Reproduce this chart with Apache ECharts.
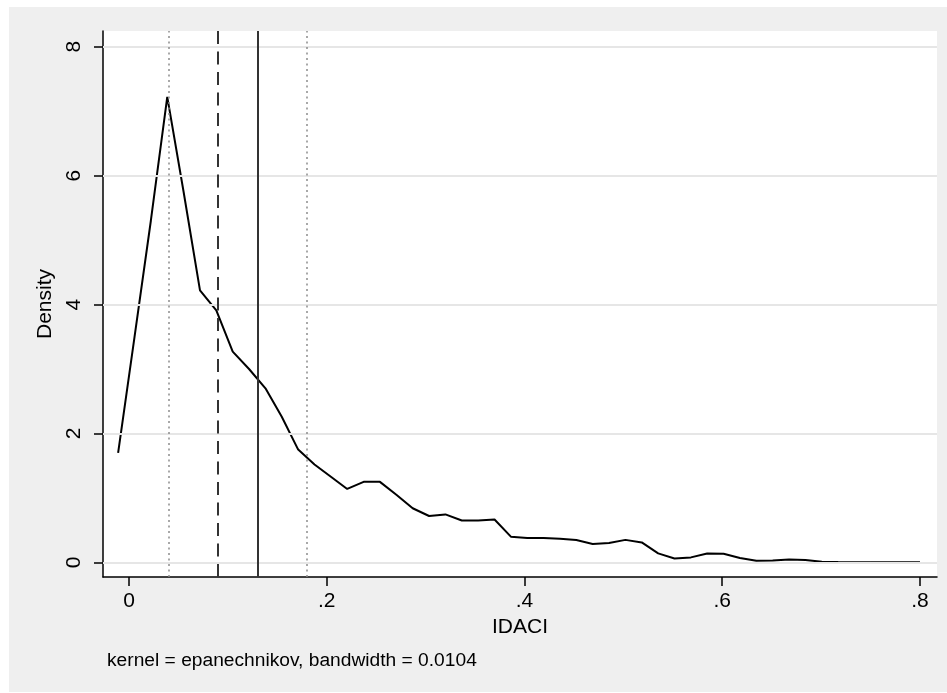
<!DOCTYPE html>
<html>
<head>
<meta charset="utf-8">
<script src="https://cdn.jsdelivr.net/npm/echarts@6/dist/echarts.min.js"></script>
<style>
html,body{margin:0;padding:0;background:#fff;}
#chart{width:947px;height:693px;}
</style>
</head>
<body>
<div id="chart"></div>
<script>
// IDACI grid points (kernel density estimate evaluation points)
var idaci = [-0.0110, 0.0056, 0.0221, 0.0387, 0.0552, 0.0718, 0.0883, 0.1049, 0.1214, 0.1380,
             0.1545, 0.1711, 0.1876, 0.2042, 0.2207, 0.2373, 0.2538, 0.2704, 0.2869, 0.3035,
             0.3200, 0.3366, 0.3531, 0.3697, 0.3862, 0.4028, 0.4193, 0.4359, 0.4524, 0.4690,
             0.4855, 0.5021, 0.5186, 0.5352, 0.5517, 0.5683, 0.5848, 0.6014, 0.6179, 0.6345,
             0.6510, 0.6676, 0.6841, 0.7007, 0.7172, 0.7338, 0.7503, 0.7669, 0.7834, 0.8000];
// Density values
var density = [1.70, 3.50, 5.30, 7.22, 5.75, 4.22, 3.91, 3.27, 3.00, 2.70,
               2.26, 1.75, 1.52, 1.33, 1.14, 1.25, 1.25, 1.05, 0.84, 0.72,
               0.745, 0.65, 0.65, 0.665, 0.40, 0.378, 0.378, 0.367, 0.347, 0.285,
               0.30, 0.35, 0.31, 0.14, 0.062, 0.078, 0.14, 0.135, 0.068, 0.026,
               0.03, 0.047, 0.037, 0.01, 0.005, 0.004, 0.003, 0.002, 0.002, 0.002];
// Reference lines
var quartiles = [0.04, 0.18];   // dotted
var median = 0.0897;            // dashed
var mean = 0.1325;              // solid
// Tick labels
var xTicks = [0, 0.2, 0.4, 0.6, 0.8];
var yTicks = [0, 2, 4, 6, 8];
var xTitle = 'IDACI';
var yTitle = 'Density';
var note = 'kernel = epanechnikov, bandwidth = 0.0104';

var FONT = '"Liberation Sans", Arial, sans-serif';

var curve = idaci.map(function (x, i) { return [x, density[i]]; });

var vlines = [];
quartiles.forEach(function (q) {
  vlines.push({ xAxis: q, lineStyle: { color: '#8c8c8c', width: 1.5, type: [2, 3.5] } });
});
vlines.push({ xAxis: median, lineStyle: { color: '#333', width: 2, type: [13, 7.5] } });
vlines.push({ xAxis: mean, lineStyle: { color: '#333', width: 2, type: 'solid' } });

var hgrid = yTicks.map(function (v) {
  return { yAxis: v, lineStyle: { color: '#e6e6e6', width: 2, type: 'solid' } };
});

var chart = echarts.init(document.getElementById('chart'), null, { renderer: 'canvas' });
chart.setOption({
  animation: false,
  backgroundColor: 'transparent',
  graphic: [
    { type: 'rect', z: -10, silent: true, shape: { x: 9, y: 7, width: 938, height: 685 }, style: { fill: '#efefef' } },
    { type: 'text', left: 107, top: 651, silent: true,
      style: { text: note, font: '19.2px ' + FONT, fill: '#000' } }
  ],
  grid: { left: 103, right: 10, top: 31, bottom: 116, show: true, backgroundColor: '#fff', borderWidth: 0 },
  xAxis: {
    type: 'value', min: -0.0263, max: 0.8172,
    name: xTitle, nameLocation: 'middle', nameGap: 37,
    nameTextStyle: { fontFamily: FONT, fontSize: 21, color: '#000' },
    axisLine: { show: true, onZero: false, lineStyle: { color: '#000', width: 1.5 } },
    axisTick: { show: true, length: 9, customValues: xTicks, lineStyle: { color: '#000', width: 1.5 } },
    axisLabel: {
      show: true, margin: 14, customValues: xTicks, fontFamily: FONT, fontSize: 21, color: '#000',
      formatter: function (v) { return v === 0 ? '0' : String(+v.toFixed(1)).replace(/^0\./, '.'); }
    },
    splitLine: { show: false }
  },
  yAxis: {
    type: 'value', min: -0.226, max: 8.243,
    name: yTitle, nameLocation: 'middle', nameGap: 45, nameRotate: 90,
    nameTextStyle: { fontFamily: FONT, fontSize: 21, color: '#000' },
    axisLine: { show: true, onZero: false, lineStyle: { color: '#000', width: 1.5 } },
    axisTick: { show: true, length: 9, customValues: yTicks, lineStyle: { color: '#000', width: 1.5 } },
    axisLabel: { show: true, margin: 18, rotate: 90, customValues: yTicks, fontFamily: FONT, fontSize: 21, color: '#000' },
    splitLine: { show: false }
  },
  series: [
    {
      type: 'line', data: [], z: 1, silent: true,
      markLine: { silent: true, symbol: ['none', 'none'], label: { show: false }, data: hgrid, animation: false }
    },
    {
      type: 'line', data: [], z: 2, silent: true,
      markLine: { silent: true, symbol: ['none', 'none'], label: { show: false }, data: vlines, animation: false }
    },
    {
      type: 'line', data: curve, z: 3, showSymbol: false, symbol: 'none', smooth: false,
      lineStyle: { color: '#000', width: 2 }
    }
  ]
});
</script>
</body>
</html>
